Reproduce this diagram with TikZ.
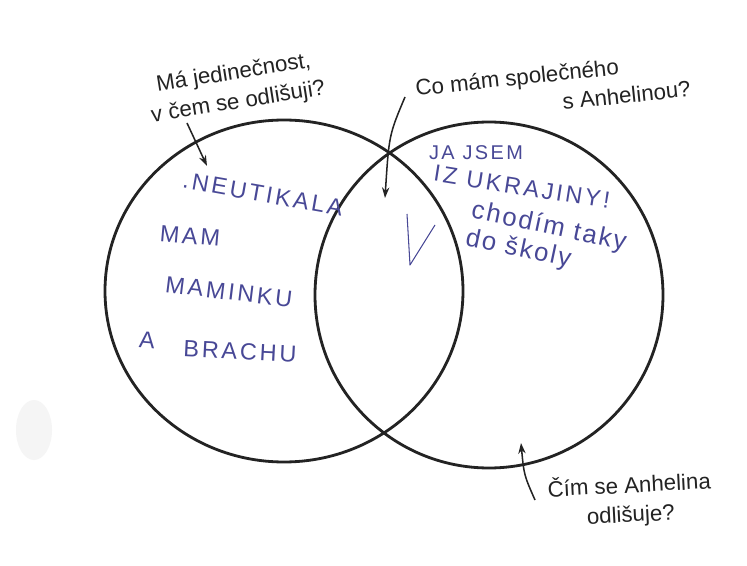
\documentclass[tikz,border=0pt]{standalone}
\usepackage{fontspec}
\setmainfont{Liberation Sans}
\usetikzlibrary{arrows.meta}
\definecolor{penblack}{RGB}{35,35,35}
\definecolor{inkblue}{RGB}{72,72,150}
\definecolor{smudge}{RGB}{245,245,245}

\begin{document}
\begin{tikzpicture}[
        x=0.03cm, y=-0.03cm,
        ring/.style={draw=penblack, line width=2.4pt},
        question/.style={font=\fontsize{19}{25}\selectfont, text=penblack, inner sep=0pt},
        answer/.style={font=\fontsize{20}{22}\selectfont\addfontfeature{LetterSpace=12}, text=inkblue, inner sep=0pt},
        lower answer/.style={answer, font=\fontsize{22}{24}\selectfont\addfontfeature{LetterSpace=8}, align=left},
        pointer/.style={-{Stealth[length=3.2mm,width=2.2mm]}, line width=1.3pt, penblack}
    ]
        \useasboundingbox[fill=white] (0,0) rectangle (747,566);
        \fill[smudge] (34,430) ellipse [x radius=18, y radius=30];

        % the two sets
        \draw[ring] (284,291) ellipse [x radius=179, y radius=171];
        \draw[ring] (489,295) ellipse [x radius=174, y radius=173];

        % questions
        \node[question, align=center, rotate=9] (unique) at (236,88) {Má jedinečnost,\\v čem se odlišuji?};
        \node[question, align=left, rotate=6] (common) at (553,88) {Co mám společného\\\hspace*{6.5em}s Anhelinou?};
        \node[question, align=center, rotate=3] (other) at (630,500) {Čím se Anhelina\\odlišuje?};

        \coordinate (unique tip) at (207,166);
        \coordinate (common tip) at (385,198);
        \coordinate (other tip) at (521,443);

        \draw[pointer] (187,123) -- (unique tip);
        \draw[pointer] (405,97) .. controls (389,135) .. (common tip);
        \draw[pointer] (535,500) .. controls (524,475) .. (other tip);

        % left only
        \node[answer, rotate=-10] (flee) at (263,194) {.NEUTIKALA};
        \node[answer, rotate=-5] (have) at (190,236) {MAM};
        \node[answer, rotate=-7] (mother) at (229,292) {MAMINKU};
        \node[answer, rotate=-5] (and) at (147,340) {A};
        \node[answer, rotate=-3] (brother) at (240,351) {BRACHU};

        % right only
        \node[answer, font=\fontsize{17}{20}\selectfont\addfontfeature{LetterSpace=12}] (iam) at (476,153) {JA JSEM};
        \node[answer, rotate=-9] (country) at (522,187) {IZ UKRAJINY!};
        \node[lower answer, rotate=-12] (school) at (546,241) {chodím taky\\do školy};

        % shared
        \draw[inkblue, line width=0.9pt, line join=round] (407,214) -- (410,265) -- (435,225);
    \end{tikzpicture}
\end{document}
